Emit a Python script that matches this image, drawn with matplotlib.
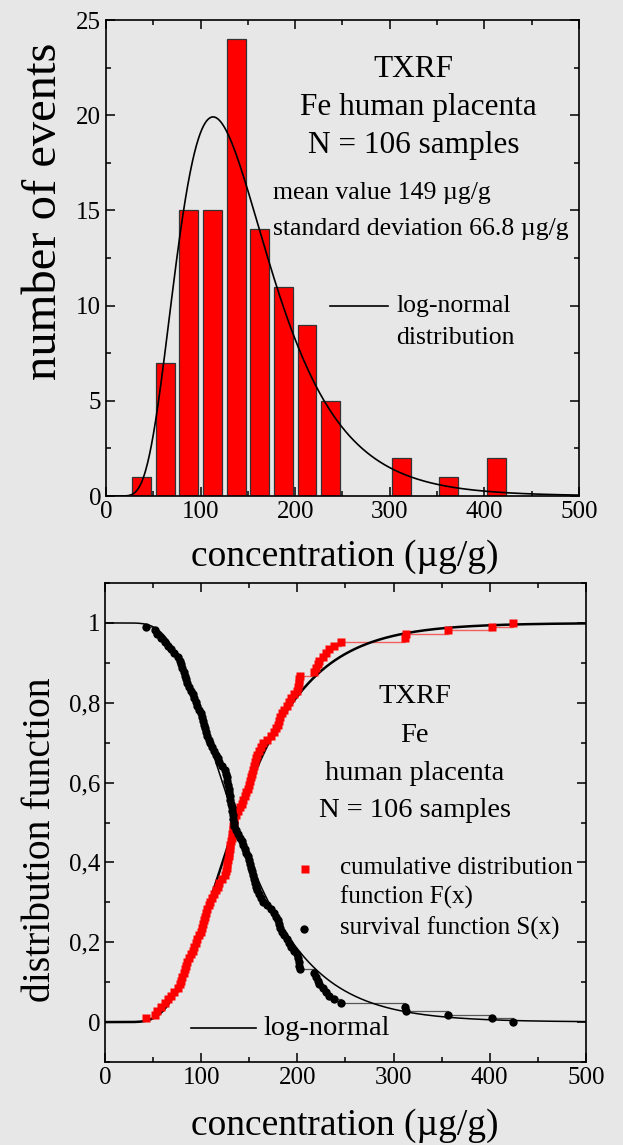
import math
import numpy as np
import matplotlib
matplotlib.use('Agg')
import matplotlib.pyplot as plt
from matplotlib.ticker import MultipleLocator, FuncFormatter

# histogram (top panel)
bin_centers = [37.5, 62.5, 87.5, 112.5, 137.5, 162.5, 187.5, 212.5, 237.5, 312.5, 362.5, 412.5]
counts = [1, 7, 15, 15, 24, 14, 11, 9, 5, 2, 1, 2]
bin_width = 25

# fitted log-normal parameters
mean_value = 149.0
std_dev = 66.8
n_samples = 106

# sorted sample values (bottom panel)
samples = [43,
           52, 54, 58, 62, 66, 69, 72,
           76, 78, 79, 80, 82, 83, 84, 85, 87, 89, 91, 93, 95, 96, 98,
           100, 101, 102, 103, 104, 105, 106, 108, 109, 111, 113, 115, 117, 119, 122,
           125, 126, 127, 127, 128, 129, 129, 130, 130, 131, 132, 132, 133, 133, 134, 134,
           136, 138, 140, 142, 144, 146, 147, 149,
           150, 151, 152, 153, 154, 155, 156, 157, 158, 160, 162, 164, 168, 173,
           176, 178, 180, 181, 182, 184, 186, 189, 191, 193, 197,
           200, 201, 202, 202, 203, 217, 219, 221, 223,
           227, 230, 233, 238, 245,
           312, 313, 357, 402, 424]

bg = '#e7e7e7'
plt.rcParams['font.family'] = ['Liberation Serif', 'DejaVu Serif']

sigma = math.sqrt(math.log(1 + (std_dev / mean_value) ** 2))
mu = math.log(mean_value) - sigma ** 2 / 2


def lognorm_pdf(x):
    return np.exp(-(np.log(x) - mu) ** 2 / (2 * sigma ** 2)) / (x * sigma * math.sqrt(2 * math.pi))


def lognorm_cdf(x):
    erf = np.vectorize(math.erf)
    return 0.5 * (1 + erf((np.log(x) - mu) / (sigma * math.sqrt(2))))


def style_axes(ax):
    ax.set_facecolor(bg)
    ax.tick_params(which='both', direction='in', top=True, right=True, width=1.1, labelsize=18)
    ax.tick_params(which='major', length=6.5)
    ax.tick_params(which='minor', length=3.5)
    for s in ax.spines.values():
        s.set_linewidth(1.2)


def place_labels(ax, xl, yl):
    ax.xaxis.label.set_verticalalignment('center')
    ax.yaxis.label.set_verticalalignment('center')
    ax.xaxis.set_label_coords(*xl)
    ax.yaxis.set_label_coords(*yl)


fig = plt.figure(figsize=(6.23, 11.45), dpi=100, facecolor=bg)

# ---- top: histogram ----
ax1 = fig.add_axes([0.1701, 0.5668, 0.7593, 0.4157])
style_axes(ax1)
ax1.bar(bin_centers, counts, width=20, color='#ff0000', edgecolor='#333333', linewidth=0.9, zorder=2)
xs = np.linspace(0.5, 500, 1000)
ax1.plot(xs, lognorm_pdf(xs) * n_samples * bin_width, color='black', lw=1.2, zorder=3)
ax1.set_xlim(0, 500)
ax1.set_ylim(0, 25)
ax1.xaxis.set_major_locator(MultipleLocator(100))
ax1.xaxis.set_minor_locator(MultipleLocator(50))
ax1.yaxis.set_major_locator(MultipleLocator(5))
ax1.yaxis.set_minor_locator(MultipleLocator(2.5))
ax1.set_xlabel('concentration (µg/g)', fontsize=27)
ax1.set_ylabel('number of events', fontsize=35)
place_labels(ax1, (0.505, -0.128), (-0.13, 0.599))

ax1.text(325, 22.4, 'TXRF', fontsize=22.5, ha='center', va='center')
ax1.text(330, 20.4, 'Fe human placenta', fontsize=22.5, ha='center', va='center')
ax1.text(325, 18.4, 'N = 106 samples', fontsize=22.5, ha='center', va='center')
ax1.text(177, 15.9, 'mean value 149 µg/g', fontsize=18.5, ha='left', va='center')
ax1.text(177, 14.0, 'standard deviation 66.8 µg/g', fontsize=18.5, ha='left', va='center')
ax1.plot([237, 298], [10.0, 10.0], color='black', lw=1.2)
ax1.text(307, 10.0, 'log-normal', fontsize=18.5, ha='left', va='center')
ax1.text(307, 8.3, 'distribution', fontsize=18.5, ha='left', va='center')

# ---- bottom: distribution functions ----
ax2 = fig.add_axes([0.1685, 0.0725, 0.772, 0.4183])
style_axes(ax2)
x_sorted = np.array(samples)
F = np.arange(1, len(x_sorted) + 1) / len(x_sorted)
S = 1 - F

xs2 = np.linspace(0.5, 500, 1000)
ax2.step(x_sorted, F, where='post', color='#f06060', lw=1.0, zorder=2)
ax2.step(x_sorted, S, where='post', color='#555555', lw=0.9, zorder=2)
ax2.plot(xs2, lognorm_cdf(xs2), color='black', lw=1.8, zorder=3)
ax2.plot(xs2, 1 - lognorm_cdf(xs2), color='black', lw=1.1, zorder=3)
ax2.plot(x_sorted, F, 's', color='#ff0000', ms=5.5, mec='none', zorder=4)
ax2.plot(x_sorted, S, 'o', color='black', ms=6, mec='none', zorder=4)

ax2.set_xlim(0, 500)
ax2.set_ylim(-0.1, 1.1)
ax2.xaxis.set_major_locator(MultipleLocator(100))
ax2.xaxis.set_minor_locator(MultipleLocator(50))
ax2.yaxis.set_major_locator(MultipleLocator(0.2))
ax2.yaxis.set_minor_locator(MultipleLocator(0.1))
ax2.yaxis.set_major_formatter(FuncFormatter(lambda v, p: ('%g' % round(v, 1)).replace('.', ',')))
ax2.set_xlabel('concentration (µg/g)', fontsize=27)
ax2.set_ylabel('distribution function', fontsize=28.5)
place_labels(ax2, (0.499, -0.1335), (-0.135, 0.4635))

ax2.text(322, 0.815, 'TXRF', fontsize=20.5, ha='center', va='center')
ax2.text(322, 0.719, 'Fe', fontsize=20.5, ha='center', va='center')
ax2.text(322, 0.622, 'human placenta', fontsize=20.5, ha='center', va='center')
ax2.text(322, 0.531, 'N = 106 samples', fontsize=20.5, ha='center', va='center')
ax2.plot([208], [0.383], 's', color='#ff0000', ms=5.5, mec='none')
ax2.text(244, 0.386, 'cumulative distribution', fontsize=18, ha='left', va='center')
ax2.text(244, 0.313, 'function F(x)', fontsize=18, ha='left', va='center')
ax2.plot([207], [0.233], 'o', color='black', ms=6, mec='none')
ax2.text(244, 0.236, 'survival function S(x)', fontsize=18, ha='left', va='center')
ax2.plot([89, 157], [-0.016, -0.016], color='black', lw=1.2)
ax2.text(165, -0.016, 'log-normal', fontsize=20.5, ha='left', va='center')

fig.savefig('out.png', dpi=100, facecolor=bg)
